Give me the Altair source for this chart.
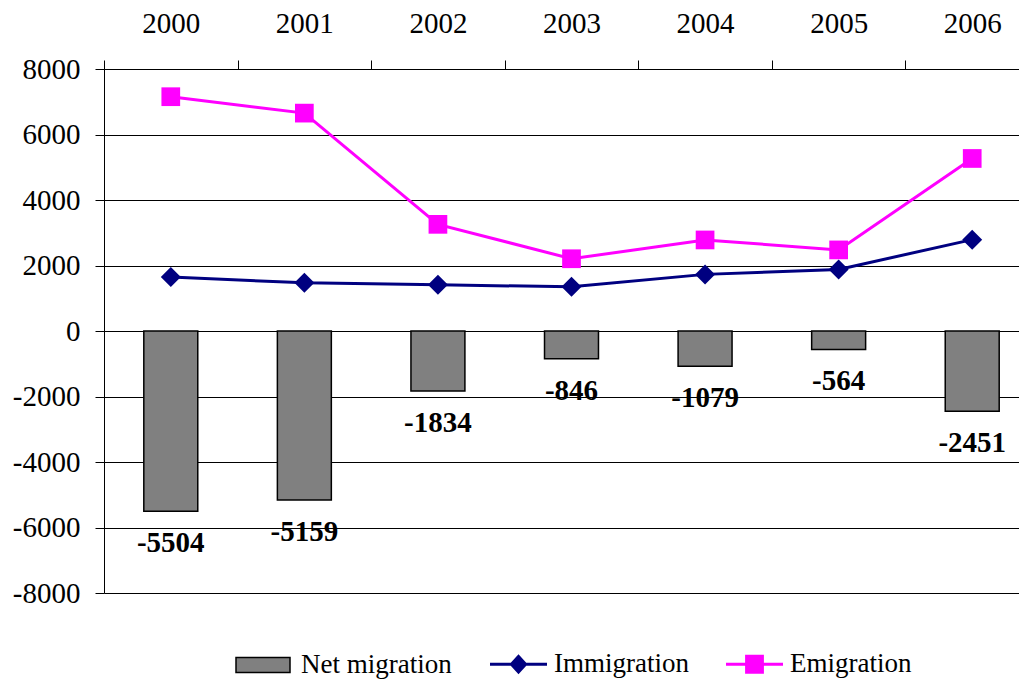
import altair as alt
import pandas as pd

# ---- data ----
years = ["2000", "2001", "2002", "2003", "2004", "2005", "2006"]
net_migration = [-5504, -5159, -1834, -846, -1079, -564, -2451]
immigration = [1650, 1470, 1410, 1350, 1729, 1880, 2790]
emigration = [7154, 6653, 3257, 2206, 2780, 2476, 5268]
y_ticks = [-8000, -6000, -4000, -2000, 0, 2000, 4000, 6000, 8000]
series_lines = ["Immigration", "Emigration"]

FONT = "Liberation Serif"
NAVY = "#000080"
MAGENTA = "#FF00FF"
GRAY = "#808080"

# legend symbol shapes (unit coordinates, scaled by symbol size)
RECT_PATH = "M-1,-0.28H1V0.28H-1Z"
DIAMOND_PATH = "M-1,-0.055H1V0.055H-1Z M0,-0.35L0.32,0L0,0.35L-0.32,0Z"
SQUARE_PATH = "M-1,-0.055H1V0.055H-1Z M-0.33,-0.33H0.33V0.33H-0.33Z"

bars_df = pd.DataFrame({
    "year": years,
    "value": net_migration,
    "series": ["Net migration"] * len(years),
    "label": [str(v) for v in net_migration],
})
lines_df = pd.DataFrame({
    "year": years + years,
    "value": immigration + emigration,
    "series": ["Immigration"] * len(years) + ["Emigration"] * len(years),
})

x_enc = alt.X(
    "year:O",
    sort=years,
    scale=alt.Scale(range=[0, 935], paddingInner=0, paddingOuter=0),
    axis=alt.Axis(
        orient="top", tickBand="extent", labelAngle=0, title=None,
        domain=True, domainColor="black", domainWidth=1,
        ticks=True, tickColor="black", tickSize=9, tickWidth=1,
        labelFont=FONT, labelFontSize=29, labelColor="black",
        labelPadding=22, grid=False, labelOverlap=False,
    ),
)
y_enc = alt.Y(
    "value:Q",
    scale=alt.Scale(domain=[-8000, 8000], nice=False, zero=True),
    axis=alt.Axis(
        values=y_ticks, title=None, grid=True, gridColor="black", gridWidth=1,
        gridOpacity=1, domain=True, domainColor="black", domainWidth=1,
        ticks=True, tickColor="black", tickSize=9, tickWidth=1,
        labelFont=FONT, labelFontSize=29, labelColor="black", labelPadding=15,
        labelExpr="'' + datum.value", labelOverlap=False,
    ),
)

legend_a = alt.Legend(
    orient="none", legendX=131, legendY=568, title=None, direction="horizontal",
    symbolType=RECT_PATH, symbolSize=2916, symbolStrokeColor="black",
    symbolStrokeWidth=1.5, symbolOpacity=1,
    labelFont=FONT, labelFontSize=27, labelColor="black", labelOffset=10, padding=0,
)
legend_b = alt.Legend(
    orient="none", legendX=386, legendY=566.5, title=None, direction="horizontal",
    symbolSize=3249, symbolStrokeWidth=0, symbolOpacity=1,
    labelFont=FONT, labelFontSize=27, labelColor="black", labelOffset=7,
    columnPadding=37, padding=0,
)

bars = alt.Chart(bars_df).mark_bar(
    stroke="black", strokeWidth=1.5, width=alt.RelativeBandSize(band=0.404)
).encode(
    x=x_enc, y=y_enc,
    fill=alt.Fill("series:N", scale=alt.Scale(domain=["Net migration"], range=[GRAY]), legend=legend_a),
)

bar_labels = alt.Chart(bars_df).mark_text(
    dy=41, baseline="alphabetic", align="center", font=FONT, fontSize=29,
    fontWeight="bold", color="black",
).encode(x=x_enc, y=y_enc, text="label:N")

imm_line = alt.Chart(lines_df).transform_filter(alt.datum.series == "Immigration").mark_line(
    color=NAVY, strokeWidth=3
).encode(x=x_enc, y=y_enc)
emi_line = alt.Chart(lines_df).transform_filter(alt.datum.series == "Emigration").mark_line(
    color=MAGENTA, strokeWidth=3
).encode(x=x_enc, y=y_enc)

imm_pts = alt.Chart(lines_df).transform_filter(alt.datum.series == "Immigration").mark_point(
    shape="diamond", filled=True, size=400, color=NAVY, opacity=1
).encode(x=x_enc, y=y_enc)
emi_pts = alt.Chart(lines_df).transform_filter(alt.datum.series == "Emigration").mark_point(
    shape="square", filled=True, size=350, color=MAGENTA, opacity=1
).encode(x=x_enc, y=y_enc)

legend_layer = alt.Chart(lines_df).mark_point(filled=True, opacity=0, size=3249).encode(
    x=x_enc, y=y_enc,
    color=alt.Color("series:N", scale=alt.Scale(domain=series_lines, range=[NAVY, MAGENTA]), legend=legend_b),
    shape=alt.Shape("series:N", scale=alt.Scale(domain=series_lines, range=[DIAMOND_PATH, SQUARE_PATH]), legend=legend_b),
)

chart = alt.layer(
    bars, imm_line, emi_line, imm_pts, emi_pts, bar_labels, legend_layer
).properties(
    width=915, height=524,
    padding={"left": 96, "top": 61, "right": 0, "bottom": 92},
    autosize=alt.AutoSizeParams(type="none"),
).configure_view(stroke="transparent").configure(background="white")

chart.save("out.html", embed_options={"renderer": "svg", "actions": False})
